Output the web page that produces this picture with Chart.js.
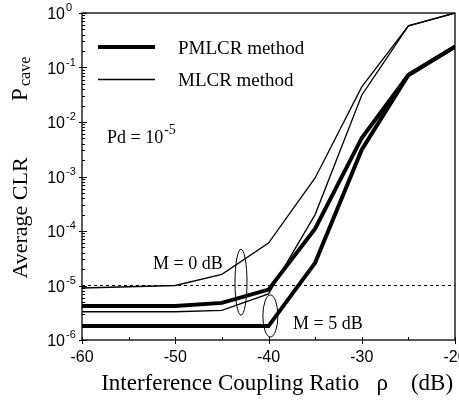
<!DOCTYPE html>
<html>
<head>
<meta charset="utf-8">
<script src="https://cdn.jsdelivr.net/npm/chart.js@4"></script>
<style>
  html, body { margin: 0; padding: 0; background: #fff; }
  #wrap { width: 459px; height: 404px; }
</style>
</head>
<body>
<div id="wrap"><canvas id="chart" width="459" height="404"></canvas></div>
<script>
// Interference coupling ratio (dB)
const rho = [-60, -50, -45, -40, -35, -30, -25, -20];

// Average CLR
const pmlcrM0 = [4.2e-6, 4.2e-6, 4.8e-6, 8.4e-6, 1.1e-4, 5.1e-3, 0.073, 0.24];
const pmlcrM5 = [1.8e-6, 1.8e-6, 1.8e-6, 1.8e-6, 2.6e-5, 3.1e-3, 0.073, 0.24];
const mlcrM0 = [9e-6, 1e-5, 1.6e-5, 6e-5, 9.4e-4, 0.044, 0.58, 1.0];
const mlcrM5 = [3.3e-6, 3.3e-6, 3.5e-6, 7e-6, 2e-4, 0.031, 0.58, 1.0];

// Required Pcave level (dotted line)
const pcaveX = [-60, -20];
const pcaveY = [1e-5, 1e-5];

const yExponents = [0, -1, -2, -3, -4, -5, -6];

const serif = '"Liberation Serif", "Times New Roman", serif';
const sans = '"Liberation Sans", Arial, sans-serif';

function points(xs, ys) {
    return xs.map((x, i) => ({ x: x, y: ys[i] }));
}

// Box, inward tick marks, superscript labels and the annotations
const decorations = {
    id: 'decorations',
    afterDraw(chart) {
        const ctx = chart.ctx;
        const area = chart.chartArea;
        const xs = chart.scales.x;
        const ys = chart.scales.y;
        ctx.save();
        ctx.strokeStyle = '#000';
        ctx.fillStyle = '#000';

        // frame
        ctx.lineWidth = 1.3;
        ctx.strokeRect(area.left, area.top, area.right - area.left, area.bottom - area.top);

        // y ticks (decades + minor)
        ctx.lineWidth = 1;
        ctx.beginPath();
        yExponents.forEach(e => {
            const y = Math.round(ys.getPixelForValue(Math.pow(10, e))) + 0.5;
            ctx.moveTo(area.left - 3, y);
            ctx.lineTo(area.left + 5, y);
            if (e > -6) {
                for (let m = 2; m <= 9; m++) {
                    const ym = Math.round(ys.getPixelForValue(m * Math.pow(10, e - 1))) + 0.5;
                    ctx.moveTo(area.left, ym);
                    ctx.lineTo(area.left + 3, ym);
                }
            }
        });
        // x ticks
        for (let v = -60; v <= -20; v += 5) {
            const x = Math.round(xs.getPixelForValue(v)) + 0.5;
            if (v % 10 === 0) {
                ctx.moveTo(x, area.bottom + 4);
                ctx.lineTo(x, area.bottom - 3);
            } else {
                ctx.moveTo(x, area.bottom);
                ctx.lineTo(x, area.bottom - 3);
            }
        }
        ctx.stroke();

        // y tick labels 10^n
        yExponents.forEach(e => {
            const y = ys.getPixelForValue(Math.pow(10, e));
            ctx.font = '16px ' + sans;
            ctx.textAlign = 'right';
            ctx.textBaseline = 'alphabetic';
            ctx.fillText('10', 65, y + 6);
            ctx.font = '11px ' + sans;
            ctx.textAlign = 'left';
            ctx.fillText(e === 0 ? '0' : String(e), 66, y - 2);
        });

        // legend
        ctx.lineWidth = 4;
        ctx.beginPath();
        ctx.moveTo(98, 47);
        ctx.lineTo(155, 47);
        ctx.stroke();
        ctx.lineWidth = 1.3;
        ctx.beginPath();
        ctx.moveTo(98, 79.5);
        ctx.lineTo(155, 79.5);
        ctx.stroke();
        ctx.font = '19px ' + serif;
        ctx.textAlign = 'left';
        ctx.fillText('PMLCR method', 178, 54);
        ctx.fillText('MLCR method', 178, 86);

        // Pd = 10^-5
        ctx.font = '18px ' + serif;
        ctx.fillText('Pd = 10', 107, 143);
        const w = ctx.measureText('Pd = 10').width;
        ctx.font = '14px ' + serif;
        ctx.fillText('-5', 107 + w + 1, 134);

        // M labels
        ctx.font = '18px ' + serif;
        ctx.fillText('M = 0 dB', 153, 269);
        ctx.fillText('M = 5 dB', 293, 329);

        // ellipses grouping the curves
        ctx.lineWidth = 1;
        ctx.beginPath();
        ctx.ellipse(xs.getPixelForValue(-42.95), ys.getPixelForValue(1.15e-5), 6, 33, 0, 0, Math.PI * 2);
        ctx.stroke();
        ctx.beginPath();
        ctx.ellipse(xs.getPixelForValue(-39.8), ys.getPixelForValue(2.76e-6), 7.5, 21, 0, 0, Math.PI * 2);
        ctx.stroke();

        // y axis title: Average CLR   Pcave
        ctx.save();
        ctx.translate(27, 218);
        ctx.rotate(-Math.PI / 2);
        ctx.font = '22px ' + serif;
        ctx.textAlign = 'center';
        ctx.fillText('Average CLR', 0, 0);
        ctx.restore();
        ctx.save();
        ctx.translate(27, 101);
        ctx.rotate(-Math.PI / 2);
        ctx.font = '23px ' + serif;
        ctx.textAlign = 'left';
        ctx.fillText('P', 0, 0);
        ctx.font = '16px ' + serif;
        ctx.fillText('cave', 15, 3);
        ctx.restore();

        ctx.restore();
    }
};

function lineSet(label, xs, ys, width, dash) {
    return {
        label: label,
        data: points(xs, ys),
        borderColor: '#000',
        backgroundColor: '#000',
        borderWidth: width,
        borderDash: dash || [],
        pointRadius: 0,
        tension: 0,
        fill: false
    };
}

const ctx = document.getElementById('chart').getContext('2d');
new Chart(ctx, {
    type: 'line',
    data: {
        datasets: [
            lineSet('Pcave', pcaveX, pcaveY, 1, [3, 3]),
            lineSet('MLCR M=0', rho, mlcrM0, 1.3),
            lineSet('MLCR M=5', rho, mlcrM5, 1.3),
            lineSet('PMLCR M=0', rho, pmlcrM0, 4),
            lineSet('PMLCR M=5', rho, pmlcrM5, 4)
        ]
    },
    options: {
        responsive: false,
        animation: false,
        devicePixelRatio: 1,
        layout: { padding: { top: 13, right: 4, left: 0, bottom: 0 } },
        plugins: {
            legend: { display: false },
            tooltip: { enabled: false }
        },
        scales: {
            x: {
                type: 'linear',
                min: -60,
                max: -20,
                grid: { display: false, drawTicks: false },
                border: { display: false },
                ticks: {
                    stepSize: 10,
                    color: '#000',
                    font: { family: sans, size: 16 },
                    padding: 8
                },
                title: {
                    display: true,
                    text: '   Interference Coupling Ratio   \u03c1    (dB)',
                    color: '#000',
                    font: { family: serif, size: 23 },
                    padding: { top: 0, bottom: 6 }
                },
                afterFit(scale) {
                    scale.height = 64;
                    scale.paddingLeft = 0;
                    scale.paddingRight = 0;
                }
            },
            y: {
                type: 'logarithmic',
                min: 1e-6,
                max: 1,
                grid: { display: false, drawTicks: false },
                border: { display: false },
                ticks: { display: false },
                afterFit(scale) {
                    scale.width = 82;
                    scale.paddingTop = 0;
                    scale.paddingBottom = 0;
                }
            }
        }
    },
    plugins: [decorations]
});
</script>
</body>
</html>
